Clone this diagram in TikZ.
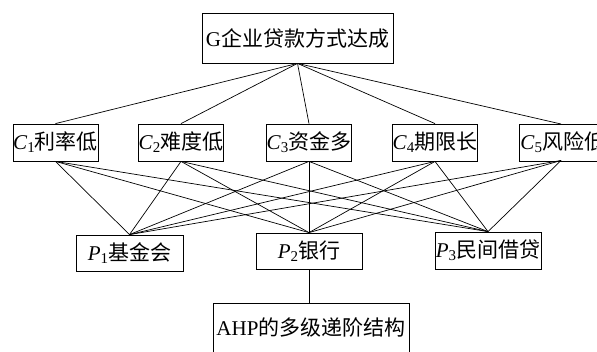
\documentclass[tikz,border=0pt]{standalone}
\usepackage{fontspec}
\setmainfont{Liberation Serif}
\newfontfamily\cjk{Noto Sans CJK SC}
\tikzset{
  box/.style={draw, line width=0.8pt, inner sep=0pt, anchor=center, font=\fontsize{21}{23}\selectfont},
  link/.style={line width=0.7pt}
}
\newcommand{\Lab}[2]{\textit{#1}\raisebox{-0.15em}{\fontsize{15}{15}\selectfont #2}}
\begin{document}
\begin{tikzpicture}[x=1pt,y=-1pt]
\useasboundingbox (0,0) rectangle (597,351);
\clip (0,0) rectangle (597,351);
\node[box, minimum width=191pt, minimum height=50pt] (G) at (297.5,38) {G{\cjk 企业贷款方式达成}};
\node[box, minimum width=85pt, minimum height=37pt] (C1) at (55.5,142.5) {\Lab{C}{1}{\cjk 利率低}};
\node[box, minimum width=84pt, minimum height=37pt] (C2) at (181,142.5) {\Lab{C}{2}{\cjk 难度低}};
\node[box, minimum width=84pt, minimum height=37pt] (C3) at (309,142.5) {\Lab{C}{3}{\cjk 资金多}};
\node[box, minimum width=84pt, minimum height=37pt] (C4) at (435,142.5) {\Lab{C}{4}{\cjk 期限长}};
\node[box, minimum width=85pt, minimum height=37pt, anchor=west] (C5) at (519,142.5) {\hspace{1pt}\Lab{C}{5}{\cjk 风险低}\hspace{3pt}};
\node[box, minimum width=107pt, minimum height=36pt] (P1) at (129.5,253) {\Lab{P}{1}{\cjk 基金会}};
\node[box, minimum width=106pt, minimum height=36pt] (P2) at (309,251) {\Lab{P}{2}{\cjk 银行}};
\node[box, minimum width=106pt, minimum height=37pt] (P3) at (488,250.5) {\Lab{P}{3}{\cjk 民间借贷}};
\node[box, minimum width=196pt, minimum height=58pt, anchor=north] (A) at (311,303) {\raisebox{12pt}{AHP{\cjk 的多级递阶结构}}};
\foreach \c in {C1,C2,C3,C4} \draw[link] (G.south) -- (\c.north);
\draw[link] (G.south) -- (561,124);
\foreach \c in {C1,C2,C3,C4} {
  \foreach \p in {P1,P2,P3} \draw[link] (\c.south) -- (\p.north);
}
\coordinate (c5b) at (561,160.5);
\foreach \p in {P1,P2,P3} \draw[link] (c5b) -- (\p.north);
\draw[link] (P2.south) -- (P2.south |- A.north);
\end{tikzpicture}
\end{document}
